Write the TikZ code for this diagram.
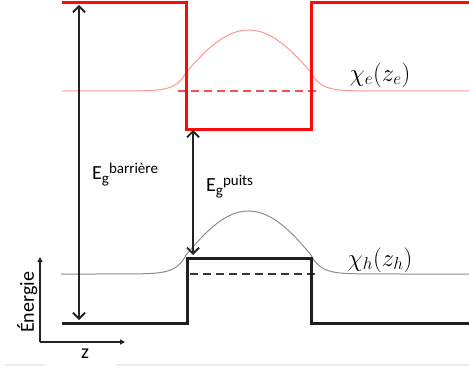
\documentclass[tikz,border=0pt]{standalone}
\usepackage{fontspec}
\setmainfont{Carlito}
\usetikzlibrary{arrows.meta}
\definecolor{bandred}{RGB}{250,10,10}
\definecolor{wavered}{RGB}{255,150,150}
\definecolor{dashred}{RGB}{245,80,80}
\definecolor{bandblack}{RGB}{30,30,30}
\definecolor{wavegray}{RGB}{140,140,140}
\definecolor{dashgray}{RGB}{55,55,55}
\definecolor{arrowcol}{RGB}{35,35,35}
\definecolor{framegray}{RGB}{236,236,236}
\newcommand\myEg[1]{E\raisebox{-4pt}{\fontsize{15}{15}\selectfont g}\raisebox{6pt}{\fontsize{15}{15}\selectfont #1}}
\tikzset{
  bandline/.style={line width=3pt, line join=miter},
  waveline/.style={line width=1pt},
  leveldash/.style={line width=1.5pt, dash pattern=on 8pt off 5pt},
  gaparrow/.style={line width=1.8pt, arrowcol, {Straight Barb[length=6pt,width=12pt]}-{Straight Barb[length=6pt,width=12pt]}},
  axisarrow/.style={line width=1.5pt, arrowcol, -{Triangle[length=5pt,width=5pt]}},
  lbl/.style={inner sep=0pt, font=\fontsize{20}{20}\selectfont},
  mathlbl/.style={inner sep=0pt, font=\fontsize{23}{23}\selectfont}
}
\begin{document}
\begin{tikzpicture}[x=1pt,y=-1pt,
  declare function={wf(\t)=ifthenelse(abs(\t-248.5)<62.5, cos(0.02026*(\t-248.5) r), 0.3*exp(-0.1*(abs(\t-248.5)-62.5)));}]
\useasboundingbox (0,0) rectangle (469,369);
% bottom frame traces
\draw[line width=2pt, framegray] (5,365) -- (45,365);
\draw[line width=2pt, framegray] (116,365) -- (469,365);
% wavefunctions
\draw[waveline, wavered] plot[domain=62:469, samples=400, smooth] (\x,{91-61*wf(\x)});
\draw[waveline, wavegray] plot[domain=61:469, samples=400, smooth] (\x,{274-63*wf(\x)});
% confined levels
\draw[leveldash, dashred] (178,91) -- (317,91);
\draw[leveldash, dashgray] (190,274) -- (317,274);
% bands
\draw[bandline, bandred] (62,2.5) -- (186,2.5) -- (186,129) -- (311,129) -- (311,2.5) -- (469,2.5);
\draw[bandline, bandblack] (62,323) -- (187,323) -- (187,258) -- (311,258) -- (311,323) -- (469,323);
% gap arrows
\coordinate (cbtop) at (79,5);
\coordinate (vbbot) at (79,320);
\coordinate (qwcb) at (193,130);
\coordinate (qwvb) at (193,255);
\draw[gaparrow] (cbtop) -- (vbbot);
\draw[gaparrow] (qwcb) -- (qwvb);
% labels
\node[lbl, anchor=base west] (egb) at (92,179) {\myEg{barrière}};
\node[lbl, anchor=base west] (egp) at (206,191) {\myEg{puits}};
\node[mathlbl, anchor=center] (chie) at (380,75) {$\chi_e(z_e)$};
\node[mathlbl, anchor=center] (chih) at (380,260) {$\chi_h(z_h)$};
% axes
\coordinate (orig) at (40,342);
\coordinate (ytip) at (40,257);
\coordinate (xtip) at (125,342);
\draw[axisarrow] (orig) -- (ytip);
\draw[axisarrow] (orig) -- (xtip);
\node[lbl, anchor=base west, rotate=90] (en) at (34,333) {Énergie};
\node[lbl, anchor=base west] (zl) at (81,358) {z};
\end{tikzpicture}
\end{document}
